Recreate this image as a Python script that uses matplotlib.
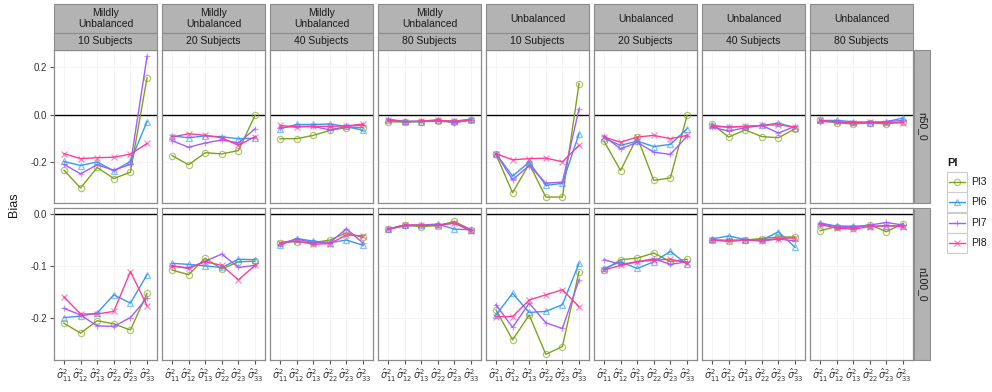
import matplotlib
matplotlib.use("Agg")
import matplotlib.pyplot as plt
from matplotlib.patches import Rectangle
from matplotlib.lines import Line2D

plt.rcParams['font.family'] = ['Liberation Sans', 'DejaVu Sans']
plt.rcParams['mathtext.fontset'] = 'dejavusans'

# ---- data -------------------------------------------------------------
designs = ["Mildly\nUnbalanced"] * 4 + ["Unbalanced"] * 4
subjects = ["10 Subjects", "20 Subjects", "40 Subjects", "80 Subjects"] * 2
sample_rows = ["n50_0", "n100_0"]
params = ["11", "12", "13", "22", "23", "33"]
tick_labels = [r"$\hat{\sigma}^2_{%s}$" % p for p in params]
pi_names = ["PI3", "PI6", "PI7", "PI8"]

PI3_n50 = [
    [-0.235, -0.310, -0.223, -0.270, -0.243, 0.155],
    [-0.173, -0.212, -0.161, -0.166, -0.152, -0.004],
    [-0.102, -0.102, -0.088, -0.067, -0.055, -0.055],
    [-0.030, -0.032, -0.030, -0.028, -0.032, -0.025],
    [-0.168, -0.330, -0.208, -0.348, -0.348, 0.130],
    [-0.112, -0.236, -0.095, -0.278, -0.267, -0.004],
    [-0.039, -0.095, -0.065, -0.093, -0.098, -0.060],
    [-0.025, -0.035, -0.040, -0.035, -0.040, -0.030],
]
PI6_n50 = [
    [-0.198, -0.215, -0.200, -0.238, -0.198, -0.030],
    [-0.090, -0.098, -0.090, -0.094, -0.102, -0.100],
    [-0.060, -0.042, -0.042, -0.040, -0.050, -0.067],
    [-0.022, -0.028, -0.030, -0.025, -0.028, -0.020],
    [-0.165, -0.260, -0.200, -0.299, -0.290, -0.081],
    [-0.100, -0.130, -0.112, -0.135, -0.126, -0.060],
    [-0.046, -0.053, -0.050, -0.046, -0.036, -0.056],
    [-0.025, -0.025, -0.030, -0.035, -0.030, -0.015],
]
PI7_n50 = [
    [-0.210, -0.250, -0.212, -0.235, -0.210, 0.245],
    [-0.110, -0.138, -0.120, -0.107, -0.120, -0.060],
    [-0.055, -0.050, -0.050, -0.065, -0.050, -0.045],
    [-0.020, -0.030, -0.028, -0.022, -0.035, -0.022],
    [-0.165, -0.275, -0.215, -0.289, -0.285, 0.024],
    [-0.090, -0.145, -0.117, -0.159, -0.168, -0.092],
    [-0.053, -0.070, -0.056, -0.046, -0.078, -0.050],
    [-0.030, -0.030, -0.035, -0.035, -0.030, -0.025],
]
PI8_n50 = [
    [-0.165, -0.186, -0.182, -0.180, -0.167, -0.122],
    [-0.095, -0.081, -0.088, -0.098, -0.130, -0.093],
    [-0.046, -0.053, -0.050, -0.050, -0.048, -0.040],
    [-0.025, -0.030, -0.028, -0.025, -0.028, -0.022],
    [-0.165, -0.191, -0.186, -0.184, -0.199, -0.130],
    [-0.095, -0.117, -0.095, -0.088, -0.102, -0.088],
    [-0.050, -0.053, -0.050, -0.046, -0.043, -0.053],
    [-0.025, -0.030, -0.035, -0.030, -0.035, -0.035],
]

PI3_n100 = [
    [-0.211, -0.230, -0.206, -0.212, -0.224, -0.153],
    [-0.108, -0.117, -0.085, -0.106, -0.092, -0.091],
    [-0.055, -0.053, -0.055, -0.050, -0.036, -0.045],
    [-0.029, -0.021, -0.024, -0.022, -0.014, -0.030],
    [-0.185, -0.243, -0.195, -0.271, -0.256, -0.111],
    [-0.108, -0.088, -0.085, -0.075, -0.092, -0.087],
    [-0.050, -0.052, -0.050, -0.047, -0.044, -0.044],
    [-0.032, -0.024, -0.027, -0.020, -0.034, -0.018],
]
PI6_n100 = [
    [-0.200, -0.197, -0.191, -0.156, -0.172, -0.117],
    [-0.095, -0.097, -0.100, -0.103, -0.087, -0.088],
    [-0.060, -0.047, -0.052, -0.055, -0.050, -0.060],
    [-0.029, -0.021, -0.021, -0.019, -0.029, -0.030],
    [-0.195, -0.153, -0.190, -0.188, -0.175, -0.095],
    [-0.105, -0.092, -0.105, -0.092, -0.072, -0.097],
    [-0.048, -0.042, -0.049, -0.050, -0.034, -0.064],
    [-0.017, -0.023, -0.023, -0.023, -0.023, -0.022],
]
PI7_n100 = [
    [-0.182, -0.195, -0.216, -0.217, -0.200, -0.162],
    [-0.100, -0.105, -0.091, -0.077, -0.103, -0.099],
    [-0.057, -0.048, -0.055, -0.055, -0.028, -0.056],
    [-0.029, -0.023, -0.021, -0.021, -0.017, -0.030],
    [-0.175, -0.219, -0.172, -0.210, -0.221, -0.127],
    [-0.088, -0.097, -0.092, -0.086, -0.097, -0.092],
    [-0.050, -0.050, -0.050, -0.052, -0.048, -0.052],
    [-0.018, -0.024, -0.025, -0.021, -0.016, -0.021],
]
PI8_n100 = [
    [-0.160, -0.193, -0.193, -0.188, -0.111, -0.177],
    [-0.100, -0.104, -0.092, -0.099, -0.127, -0.099],
    [-0.055, -0.052, -0.058, -0.057, -0.040, -0.042],
    [-0.029, -0.021, -0.021, -0.022, -0.017, -0.033],
    [-0.198, -0.198, -0.166, -0.156, -0.146, -0.179],
    [-0.108, -0.099, -0.092, -0.089, -0.087, -0.094],
    [-0.050, -0.052, -0.050, -0.050, -0.047, -0.046],
    [-0.020, -0.027, -0.029, -0.024, -0.022, -0.024],
]

series = {
    "n50_0": [PI3_n50, PI6_n50, PI7_n50, PI8_n50],
    "n100_0": [PI3_n100, PI6_n100, PI7_n100, PI8_n100],
}

# ---- styling ----------------------------------------------------------
colors = ["#7FA31A", "#3399FF", "#A35CFF", "#FF3D98"]
markers = ["o", "^", "+", "x"]
row_limits = [(-0.373, 0.272), (-0.282, 0.012)]
row_ticks = [[-0.2, 0.0, 0.2], [-0.2, -0.1, 0.0]]
strip_fill = "#B3B3B3"
strip_edge = "#8C8C8C"
border = "#8C8C8C"
text_col = "#1A1A1A"

W, H = 992, 392
fig = plt.figure(figsize=(W / 100, H / 100), dpi=100)


def px_axes(x0, y0, x1, y1):
    """Axes placed by pixel box measured from the top-left corner."""
    return fig.add_axes([x0 / W, 1 - y1 / H, (x1 - x0) / W, (y1 - y0) / H])


def strip(x0, y0, x1, y1, label, rotation=0, size=7.5):
    a = px_axes(x0, y0, x1, y1)
    a.set_xlim(0, 1)
    a.set_ylim(0, 1)
    a.add_patch(Rectangle((0, 0), 1, 1, facecolor=strip_fill,
                          edgecolor=strip_edge, linewidth=0.8,
                          transform=a.transAxes, clip_on=False))
    a.text(0.5, 0.5, label, ha="center", va="center", rotation=rotation,
           fontsize=size, color=text_col, linespacing=1.05)
    a.axis("off")
    return a


panel_left = [54 + 108 * i for i in range(8)]
panel_w = 103
row_box = [(50, 203), (208, 360)]
xs = list(range(len(params)))

for r, row in enumerate(sample_rows):
    y0, y1 = row_box[r]
    for c in range(8):
        x0 = panel_left[c]
        ax = px_axes(x0, y0, x0 + panel_w, y1)
        ax.set_xlim(-0.6, len(params) - 0.4)
        ax.set_ylim(*row_limits[r])
        ax.set_facecolor("white")
        ax.grid(True, color="#F3F3F3", linewidth=0.6)
        ax.set_axisbelow(True)
        for s in ax.spines.values():
            s.set_color(border)
            s.set_linewidth(0.9)
        ax.axhline(0.0, color="black", linewidth=1.0, zorder=2)
        for k in range(4):
            vals = series[row][k][c]
            ax.plot(xs, vals, color=colors[k], linewidth=1.0, zorder=3 + k)
            ax.plot(xs, vals, linestyle="none", marker=markers[k],
                    markersize=4.5, markerfacecolor="none",
                    markeredgecolor=colors[k], markeredgewidth=0.9,
                    alpha=0.6, zorder=3 + k)
        ax.set_yticks(row_ticks[r])
        ax.set_xticks(xs)
        ax.tick_params(axis="both", length=3, width=0.8, color="#555555",
                       labelsize=7, labelcolor="#333333", pad=2)
        if c == 0:
            ax.set_yticklabels(["%.1f" % t for t in row_ticks[r]])
        else:
            ax.tick_params(axis="y", length=0, labelleft=False)
        if r == 1:
            ax.set_xticklabels(tick_labels, fontsize=7)
        else:
            ax.tick_params(axis="x", length=0, labelbottom=False)

    # right-hand row strip
    strip(914, y0, 930, y1, row, rotation=270, size=7.5)

# column strips (design on top, subjects below)
for c in range(8):
    x0 = panel_left[c]
    strip(x0, 4, x0 + panel_w, 33, designs[c], size=7.5)
    strip(x0, 33, x0 + panel_w, 50, subjects[c], size=7.5)

fig.text(14 / W, 1 - 205 / H, "Bias", rotation=90, ha="center",
         va="center", fontsize=9, color=text_col)

# legend
fig.text(947 / W, 1 - 163 / H, "PI", ha="left", va="center",
         fontsize=8, fontweight="bold", color=text_col)
for k, name in enumerate(pi_names):
    cy = 182 + 20.3 * k
    la = px_axes(947, cy - 10, 967, cy + 10)
    la.set_xlim(0, 1)
    la.set_ylim(0, 1)
    la.add_patch(Rectangle((0, 0), 1, 1, facecolor="white",
                           edgecolor="#CCCCCC", linewidth=0.8,
                           transform=la.transAxes, clip_on=False))
    la.plot([0.1, 0.9], [0.5, 0.5], color=colors[k], linewidth=1.0)
    la.plot([0.5], [0.5], marker=markers[k], markersize=4.5,
            markerfacecolor="none", markeredgecolor=colors[k],
            markeredgewidth=0.9, alpha=0.6)
    la.axis("off")
    fig.text(971 / W, 1 - cy / H, name, ha="left", va="center",
             fontsize=7.5, color=text_col)

fig.savefig("out.png", dpi=100)
